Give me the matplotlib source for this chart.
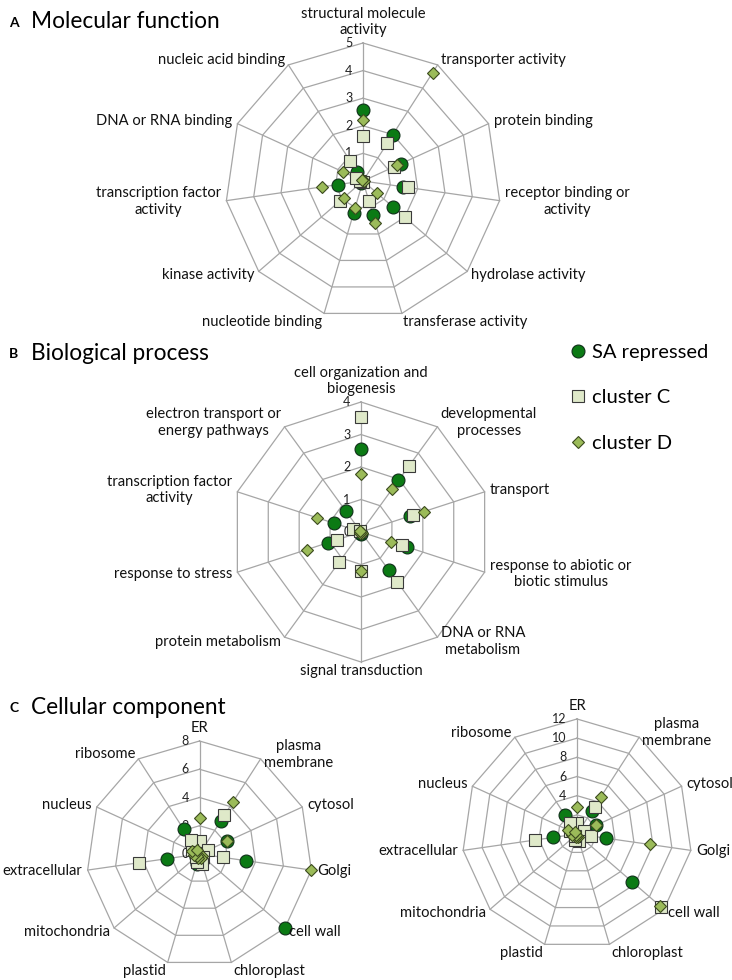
import numpy as np
import matplotlib
matplotlib.use('Agg')
import matplotlib.pyplot as plt

plt.rcParams['font.family'] = ['Lato', 'DejaVu Sans']

# ---------------- data ----------------
mf_categories = ["structural molecule\nactivity", "transporter activity", "protein binding",
                 "receptor binding or\nactivity", "hydrolase activity", "transferase activity",
                 "nucleotide binding", "kinase activity", "transcription factor\nactivity",
                 "DNA or RNA binding", "nucleic acid binding"]
mf_sa = [2.56, 2.0, 1.5, 1.47, 1.44, 1.28, 1.19, 0.1, 0.92, 0.25, 0.39]
mf_c = [1.63, 1.64, 1.23, 1.64, 2.0, 0.76, 0.05, 1.1, 0.1, 0.28, 0.85]
mf_d = [2.2, 4.66, 1.36, 0.05, 0.67, 1.58, 1.03, 0.92, 1.49, 0.79, 0.05]
mf_ticks = [1, 2, 3, 4, 5]

bp_categories = ["cell organization and\nbiogenesis", "developmental\nprocesses", "transport",
                 "response to abiotic or\nbiotic stimulus", "DNA or RNA\nmetabolism",
                 "signal transduction", "protein metabolism", "response to stress",
                 "transcription factor\nactivity", "electron transport or\nenergy pathways"]
bp_sa = [2.54, 1.96, 1.6, 1.49, 1.44, 0.05, 0.05, 1.07, 0.86, 0.79]
bp_c = [3.53, 2.52, 1.67, 1.34, 1.9, 1.19, 1.16, 0.79, 0.25, 0.05]
bp_d = [1.8, 1.62, 2.03, 0.96, 0.05, 1.19, 0.05, 1.75, 1.43, 0.05]
bp_ticks = [0, 1, 2, 3, 4]

cc_categories = ["ER", "plasma\nmembrane", "cytosol", "Golgi", "cell wall", "chloroplast",
                 "plastid", "mitochondria", "extracellular", "nucleus", "ribosome"]
cc1_sa = [0.3, 2.8, 2.15, 3.31, 8.0, 0.6, 0.75, 0.3, 2.35, 0.5, 2.08]
cc1_c = [0.9, 3.26, 0.65, 1.68, 0.3, 0.75, 0.6, 0.3, 4.3, 0.6, 1.15]
cc1_d = [2.55, 4.4, 2.15, 7.96, 0.2, 0.3, 0.3, 0.2, 0.4, 0.56, 0.3]
cc1_ticks = [0, 2, 4, 6, 8]

cc2_sa = [0.5, 2.9, 2.2, 3.1, 7.6, 0.5, 0.5, 0.3, 2.5, 0.5, 2.4]
cc2_c = [1.2, 3.4, 0.8, 1.5, 11.6, 0.8, 0.6, 0.3, 4.4, 0.8, 1.35]
cc2_d = [2.8, 4.6, 2.2, 7.66, 11.5, 0.3, 0.3, 0.2, 0.5, 1.0, 0.3]
cc2_ticks = [2, 4, 6, 8, 10, 12]

series_names = ["SA repressed", "cluster C", "cluster D"]

# ---------------- styling ----------------
W, H = 732, 980
GRID = '#a6a6a6'
styles = [
    dict(marker='o', markersize=9.3, markerfacecolor='#0b7a14', markeredgecolor='#10301a', markeredgewidth=0.8),
    dict(marker='s', markersize=8.6, markerfacecolor='#dfe9c9', markeredgecolor='#3a3a3a', markeredgewidth=0.8),
    dict(marker='D', markersize=6.4, markerfacecolor='#9bbb59', markeredgecolor='#3b4a1e', markeredgewidth=0.8),
]

fig = plt.figure(figsize=(W / 100, H / 100), dpi=100)


def polar_axes(cx, cy, r):
    return fig.add_axes([(cx - r) / W, (H - cy - r) / H, 2 * r / W, 2 * r / H], projection='polar')


def radar(ax, cats, series, ticks, label_fs=10.6):
    n = len(cats)
    theta = np.arange(n) * 2 * np.pi / n
    rmax = ticks[-1]
    ax.set_theta_zero_location('N')
    ax.set_theta_direction(-1)
    ax.set_ylim(0, rmax)
    ax.grid(False)
    ax.set_xticks([])
    ax.set_yticks([])
    ax.spines['polar'].set_visible(False)
    ax.patch.set_alpha(0)
    closed = np.append(theta, theta[0])
    rings = [t for t in ticks if t > 0]
    for rv in rings:
        ax.plot(closed, np.full(n + 1, rv), color=GRID, lw=0.9, zorder=1, clip_on=False)
    for t in theta:
        ax.plot([t, t], [0, rmax], color=GRID, lw=0.9, zorder=1, clip_on=False)
    for tv in ticks:
        ax.annotate(str(tv), xy=(0, tv), xytext=(-7.5, 0), textcoords='offset points',
                    ha='right', va='center', fontsize=9, color='#222222', zorder=2)
    handles = []
    for k, (vals, st) in enumerate(zip(series, styles)):
        h, = ax.plot(theta, vals, linestyle='none', clip_on=False, zorder=3 + k, **st)
        handles.append(h)
    for t, c in zip(theta, cats):
        s, co = np.sin(t), np.cos(t)
        ha = 'left' if s > 0.15 else ('right' if s < -0.15 else 'center')
        dy = 4 * co
        if co > 0.95:
            va = 'bottom'
        elif co < -0.9:
            va = 'top'
            dy = 1.5 * co
        else:
            va = 'center'
        ax.annotate(c, xy=(t, rmax), xytext=(4 * s, dy), textcoords='offset points',
                    ha=ha, va=va, multialignment='center', fontsize=label_fs,
                    linespacing=1.25, color='#111111')
    return handles


axA = polar_axes(363, 181, 138)
radar(axA, mf_categories, [mf_sa, mf_c, mf_d], mf_ticks)

axB = polar_axes(361, 532, 130)
handles = radar(axB, bp_categories, [bp_sa, bp_c, bp_d], bp_ticks)

axC1 = polar_axes(199.5, 854, 113)
radar(axC1, cc_categories, [cc1_sa, cc1_c, cc1_d], cc1_ticks)

axC2 = polar_axes(577, 834, 115)
radar(axC2, cc_categories, [cc2_sa, cc2_c, cc2_d], cc2_ticks)

# panel titles
for letter, title, y in [("A", "Molecular function", 22), ("B", "Biological process", 353),
                         ("C", "Cellular component", 707)]:
    fig.text(9 / W, 1 - (y + 1) / H, letter, fontsize=10, fontweight='bold', va='center', ha='left')
    fig.text(31 / W, 1 - y / H, title, fontsize=16.3, va='center', ha='left')

fig.legend(handles, series_names, loc='upper left', bbox_to_anchor=(570 / W, 1 - 344 / H),
           frameon=False, fontsize=14.5, handlelength=0.8, handletextpad=0.3, labelspacing=1.4,
           borderaxespad=0, borderpad=0)

fig.savefig('out.png', dpi=100)
